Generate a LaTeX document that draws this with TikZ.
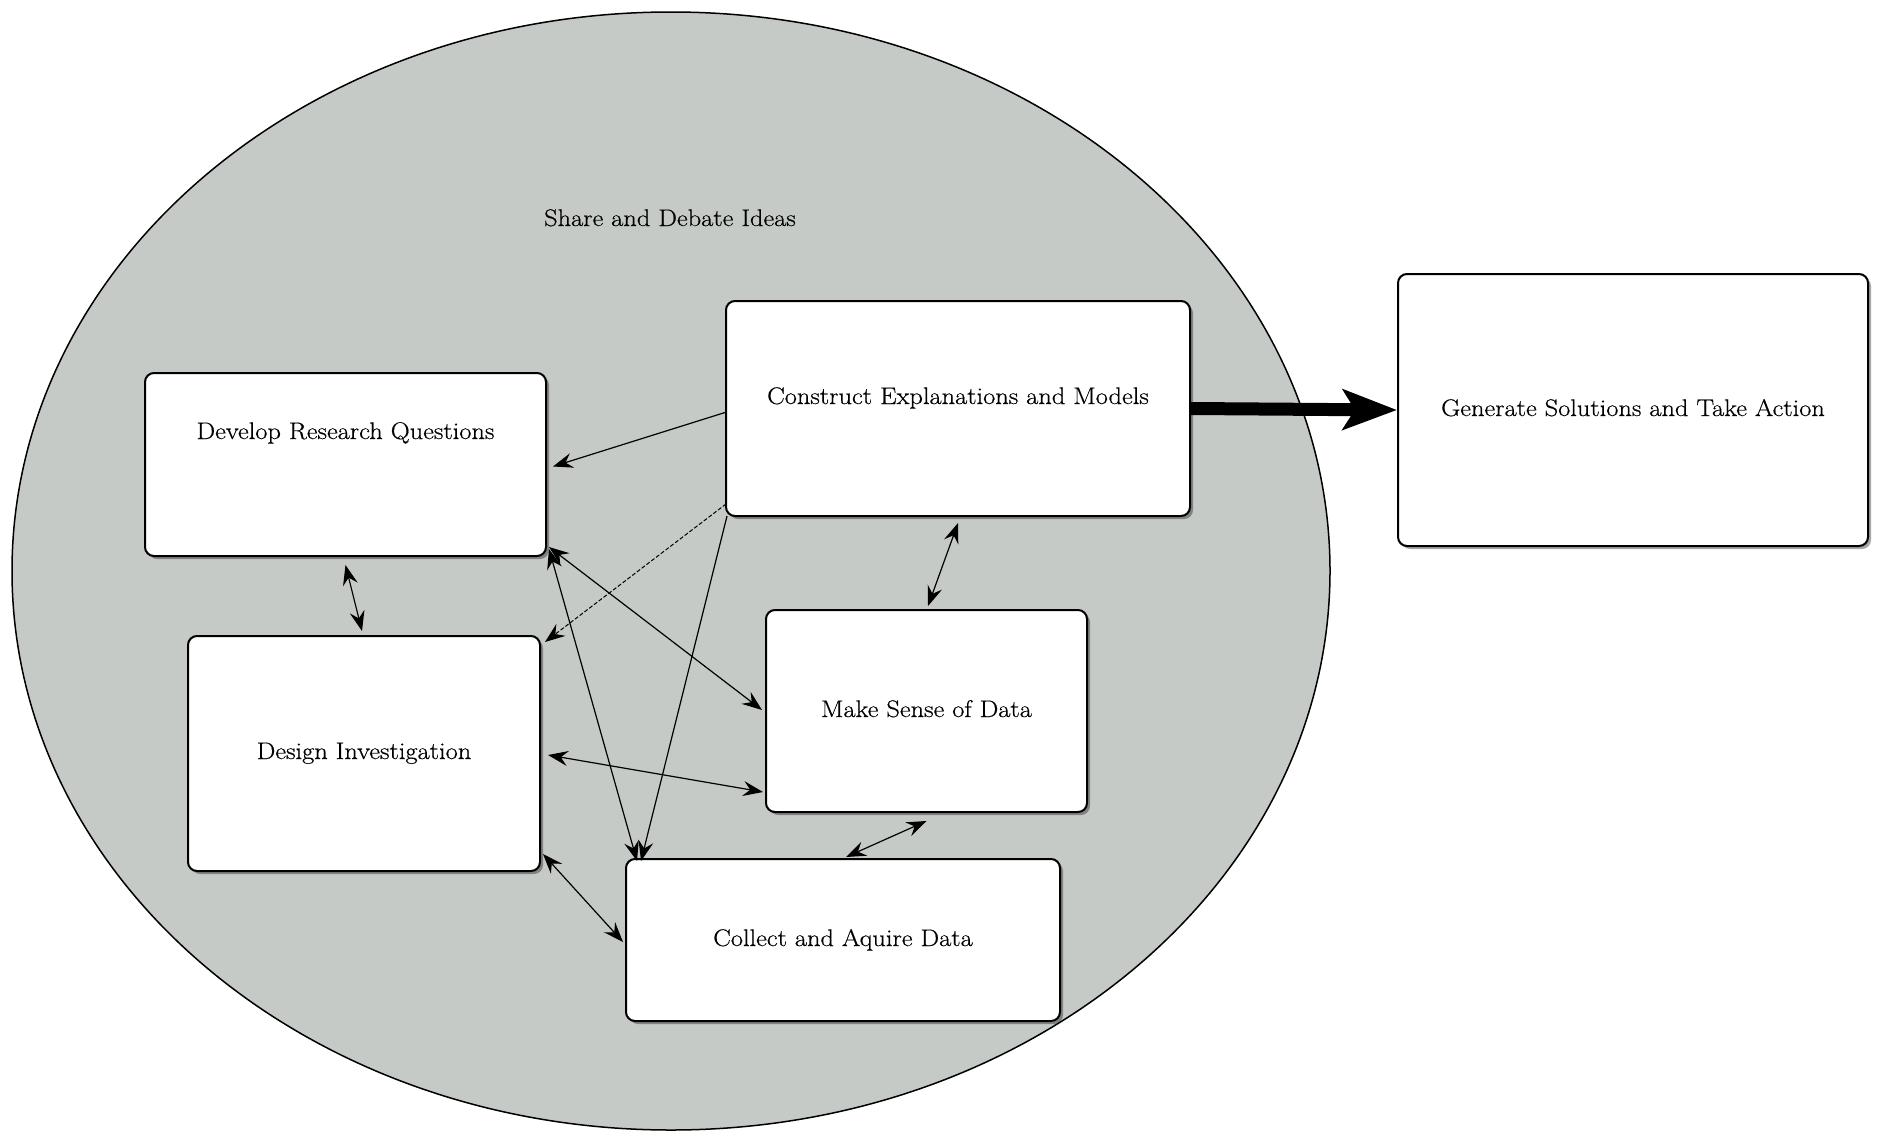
\documentclass[tikz,border=0pt]{standalone}
\usepackage{fontspec}
\setmainfont{Latin Modern Roman}[FakeStretch=1.1,FakeBold=0.5]
\usetikzlibrary{arrows.meta,shadows,calc,shapes.geometric}
\definecolor{ellfill}{RGB}{197,202,198}
\begin{document}
\begin{tikzpicture}[x=1pt,y=-1pt,
  lbl/.style={font=\fontsize{24}{28}\selectfont, inner sep=0pt},
  box/.style={draw=black, line width=2pt, fill=white, rounded corners=9pt,
    inner sep=0pt, align=center, text height=17pt, text depth=5pt,
    font=\fontsize{24}{28}\selectfont,
    drop shadow={shadow xshift=3pt, shadow yshift=-3pt, opacity=0.35, fill=black}},
  >={Stealth[length=20pt,width=15pt,inset=7pt]},
  link/.style={line width=1.2pt},
  faint/.style={line width=1pt, dash pattern=on 4pt off 2pt},
  bigarrow/.style={line width=13pt, -{Stealth[length=54pt,width=40pt,inset=12pt]}}]
\useasboundingbox (0,0) rectangle (1881,1135);
\fill[white] (0,0) rectangle (1881,1135);

\node[ellipse, draw=black, line width=1.5pt, fill=ellfill, minimum width=1318pt,
  minimum height=1118pt, inner sep=0pt] (circ) at (671,571) {};
\node[lbl, anchor=base] (share) at (670,226) {Share and Debate Ideas};

\node[box, minimum width=401pt, minimum height=183pt, text depth=68pt] (drq) at (345.5,464.5) {Develop Research Questions};
\node[box, minimum width=352pt, minimum height=235pt, text depth=6pt] (di) at (364,753.5) {Design Investigation};
\node[box, minimum width=464pt, minimum height=215pt, text depth=26pt] (cem) at (958,408.5) {Construct Explanations and Models};
\node[box, minimum width=321pt, minimum height=202pt] (msd) at (926.5,711) {Make Sense of Data};
\node[box, minimum width=434pt, minimum height=162pt] (cad) at (843,940) {Collect and Aquire Data};
\node[box, minimum width=470pt, minimum height=272pt] (gsta) at (1633,410) {Generate Solutions and Take Action};

% connectors
\draw[link,->] ($(cem.west)+(0,4)$) -- ($(drq.east)+(6,2)$);
\draw[faint,->] ($(cem.south west)+(1,-13)$) -- ($(di.north east)+(4,7)$);
\draw[link,->] ($(cem.south west)+(2,-1)$) -- ($(cad.north west)+(16,3)$);
\draw[link,<->] ($(drq.south east)+(2,-10)$) -- ($(msd.west)+(-3,-1)$);
\draw[link,<->] ($(drq.south east)+(2,-8)$) -- ($(cad.north west)+(12,3)$);
\draw[link,<->] ($(drq.south)+(0,8)$) -- ($(di.north)+(-2,-4)$);
\draw[link,<->] ($(cem.south)+(0,6)$) -- ($(msd.north)+(1.5,-3)$);
\draw[link,<->] ($(di.east)+(7,1.5)$) -- ($(msd.west)+(-2,81)$);
\draw[link,<->] ($(msd.south)+(0,8)$) -- ($(cad.north)+(3,-1)$);
\draw[link,<->] ($(di.south east)+(2,-18)$) -- ($(cad.west)+(-2,2)$);
\draw[bigarrow] (cem.east) -- (gsta.west);
\end{tikzpicture}
\end{document}
